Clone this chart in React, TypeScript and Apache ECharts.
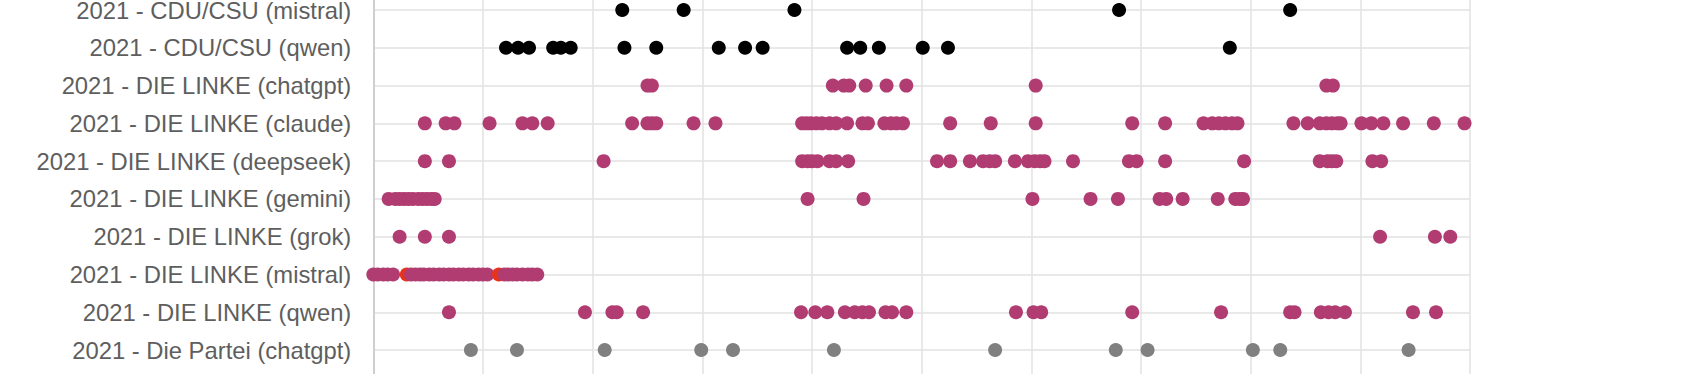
import React, { useEffect, useRef } from "react";
import * as echarts from "echarts";

// Row labels (top to bottom)
const categories = [
  "2021 - CDU/CSU (mistral)",
  "2021 - CDU/CSU (qwen)",
  "2021 - DIE LINKE (chatgpt)",
  "2021 - DIE LINKE (claude)",
  "2021 - DIE LINKE (deepseek)",
  "2021 - DIE LINKE (gemini)",
  "2021 - DIE LINKE (grok)",
  "2021 - DIE LINKE (mistral)",
  "2021 - DIE LINKE (qwen)",
  "2021 - Die Partei (chatgpt)",
];

// x positions of the points in each row
const cduMistral = [22.7, 28.3, 38.4, 68.0, 83.6];
const cduQwen = [12.1, 13.2, 14.2, 16.4, 17.1, 18.0, 22.9, 25.8, 31.5, 33.9, 35.5, 43.2, 44.4, 46.1, 50.1, 52.4, 78.1];
const linkeChatgpt = [25.0, 25.4, 41.9, 42.9, 43.4, 44.9, 46.8, 48.6, 60.4, 86.9, 87.5];
const linkeClaude = [4.7, 6.6, 7.4, 10.6, 13.6, 14.5, 15.9, 23.6, 25.0, 25.4, 25.8, 29.2, 31.2, 39.1, 39.5, 39.9, 40.4, 40.9, 41.6, 42.2, 43.2, 44.6, 45.1, 46.6, 47.2, 47.7, 48.3, 52.6, 56.3, 60.4, 69.2, 72.2, 75.7, 76.5, 77.1, 77.7, 78.3, 78.8, 83.9, 85.2, 86.3, 86.9, 87.4, 87.9, 88.2, 90.1, 91.0, 92.1, 93.9, 96.7, 99.5];
const linkeDeepseek = [4.7, 6.9, 21.0, 39.1, 39.6, 40.0, 40.5, 41.6, 42.2, 43.3, 51.4, 52.6, 54.4, 55.6, 56.2, 56.7, 58.5, 59.7, 60.3, 60.8, 61.2, 63.8, 68.9, 69.6, 72.2, 79.4, 86.3, 87.0, 87.4, 87.8, 91.1, 91.9];
const linkeGemini = [1.4, 2.0, 2.4, 2.8, 3.2, 3.6, 4.1, 4.5, 4.9, 5.3, 5.6, 39.6, 44.7, 60.1, 65.4, 67.9, 71.7, 72.3, 73.8, 77.0, 78.6, 79.0, 79.3];
const linkeGrok = [2.4, 4.7, 6.9, 91.8, 96.8, 98.2];
const linkeMistral = [0.0, 0.4, 0.9, 1.3, 1.8, 3.45, 3.85, 4.25, 4.6, 5.1, 5.5, 6.0, 6.4, 6.9, 7.3, 7.8, 8.2, 8.7, 9.1, 9.6, 10.0, 10.4, 11.95, 12.3, 12.7, 13.1, 13.6, 14.1, 14.5, 14.95];
const linkeMistralRed = [3.05, 11.45];
const linkeQwen = [6.9, 19.3, 21.8, 22.2, 24.6, 39.0, 40.3, 41.4, 43.0, 43.9, 44.6, 45.2, 46.7, 47.3, 48.6, 58.6, 60.2, 60.9, 69.2, 77.3, 83.6, 84.0, 86.4, 87.1, 87.7, 88.6, 94.8, 96.9];
const parteiChatgpt = [8.9, 13.1, 21.1, 29.9, 32.8, 42.0, 56.7, 67.7, 70.6, 80.2, 82.7, 94.4];

const BLACK = "#000000";
const MAGENTA = "#b03c72";
const GRAY = "#808080";
const RED = "#e8331c";

export default function App() {
  const ref = useRef<HTMLDivElement>(null);

  useEffect(() => {
    if (!ref.current) return;
    const chart = echarts.init(ref.current, undefined, { renderer: "svg" });

    const rows: { vals: number[]; color: string }[] = [
      { vals: cduMistral, color: BLACK },
      { vals: cduQwen, color: BLACK },
      { vals: linkeChatgpt, color: MAGENTA },
      { vals: linkeClaude, color: MAGENTA },
      { vals: linkeDeepseek, color: MAGENTA },
      { vals: linkeGemini, color: MAGENTA },
      { vals: linkeGrok, color: MAGENTA },
      { vals: [], color: MAGENTA },
      { vals: linkeQwen, color: MAGENTA },
      { vals: parteiChatgpt, color: GRAY },
    ];

    const series: any[] = rows.map((r, i) => ({
      type: "scatter",
      name: categories[i],
      symbol: "circle",
      symbolSize: 14,
      silent: true,
      itemStyle: { color: r.color, opacity: 1 },
      data: r.vals.map((v) => [v, i]),
    }));

    // DIE LINKE (mistral): points drawn in x order, highlighted ones in red
    const mistralRow = 7;
    const merged = [
      ...linkeMistral.map((v) => ({ v, c: MAGENTA })),
      ...linkeMistralRed.map((v) => ({ v, c: RED })),
    ].sort((a, b) => a.v - b.v);
    series[mistralRow].data = merged.map((p) => ({
      value: [p.v, mistralRow],
      itemStyle: { color: p.c },
    }));

    chart.setOption({
      animation: false,
      backgroundColor: "#ffffff",
      grid: {
        left: 373.3,
        top: -27.78,
        width: 1096.7,
        height: 415.6,
        containLabel: false,
        outerBoundsMode: "none",
      },
      xAxis: {
        type: "value",
        min: 0,
        max: 100,
        interval: 10,
        axisLine: { show: false },
        axisTick: { show: false },
        axisLabel: { show: false },
        splitLine: { show: true, lineStyle: { color: "#e2e2e2", width: 1.5 } },
      },
      yAxis: {
        type: "value",
        inverse: true,
        min: -1,
        max: 10,
        interval: 1,
        axisLine: { show: true, onZero: false, lineStyle: { color: "#cfcfcf", width: 2 } },
        axisTick: { show: false },
        axisLabel: {
          formatter: (v: number) => categories[v] ?? "",
          color: "#5e5e5e",
          fontSize: 23.8,
          fontFamily: "'Liberation Sans', Arial, Helvetica, sans-serif",
          margin: 22,
        },
        splitLine: { show: true, lineStyle: { color: "#e2e2e2", width: 1.5 } },
      },
      series,
    });

    return () => {
      chart.dispose();
    };
  }, []);

  return (
    <div
      ref={ref}
      style={{
        position: "absolute",
        left: 0,
        top: 0,
        width: 1684,
        height: 374,
        overflow: "hidden",
        background: "#fff",
      }}
    />
  );
}
